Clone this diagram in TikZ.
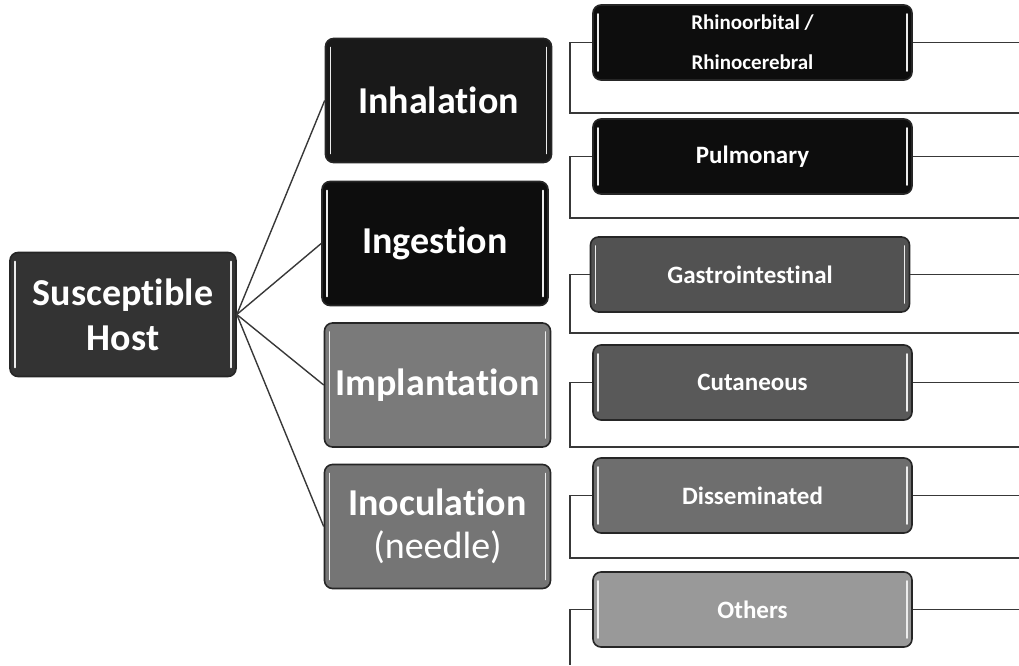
\documentclass[tikz,border=0pt]{standalone}
\usepackage{fontspec}
\setmainfont{Carlito}[Ligatures=NoCommon]
\begin{document}
\begin{tikzpicture}[x=1pt,y=-1pt,
  box/.style={draw=black!85, line width=1.6pt, rounded corners=8pt, text=white,
    font=\bfseries, align=center, inner sep=0pt,
    path picture={
      \draw[white!85!gray, line width=1.6pt, line cap=round]
        ([xshift=5pt,yshift=-9pt]path picture bounding box.north west) --
        ([xshift=5pt,yshift=9pt]path picture bounding box.south west);
      \draw[white!85!gray, line width=1.6pt, line cap=round]
        ([xshift=-5pt,yshift=-9pt]path picture bounding box.north east) --
        ([xshift=-5pt,yshift=9pt]path picture bounding box.south east);
    }},
  bigbox/.style={box, minimum width=226pt, minimum height=124pt,
    font=\bfseries\fontsize{38}{45}\selectfont},
  smallbox/.style={box, minimum width=319pt, minimum height=75pt,
    font=\bfseries\fontsize{25}{30}\selectfont},
  link/.style={draw=black!78, line width=1.4pt},
  wire/.style={draw=black!78, line width=1.1pt}
]
\useasboundingbox (0,0) rectangle (1019,665);

% left and middle column
\node[bigbox, fill=black!80] (host) at (123,314.5) {Susceptible\\Host};
\node[bigbox, fill=black!90] (inh) at (438.5,100.5) {Inhalation};
\node[bigbox, fill=black!95] (ing) at (435,243.5) {Ingestion};
\node[bigbox, fill=black!52] (imp) at (437.5,385) {Implantation};
\node[bigbox, fill=black!54] (ino) at (437.5,526.5) {Inoculation\\[-2pt]{\mdseries (needle)}};

\foreach \t in {inh,ing,imp,ino} \draw[link] (host.east) -- (\t.west);

% right column
\node[smallbox, fill=black!95, font=\bfseries\fontsize{21}{40}\selectfont] (rhi) at (752.5,42.5) {Rhinoorbital /\\Rhinocerebral};
\node[smallbox, fill=black!95] (pul) at (752.5,156.5) {Pulmonary};
\node[smallbox, fill=black!68] (gas) at (750,274.5) {Gastrointestinal};
\node[smallbox, fill=black!65] (cut) at (752.5,382.5) {Cutaneous};
\node[smallbox, fill=black!57] (dis) at (752.5,495.5) {Disseminated};
\node[smallbox, fill=black!40] (oth) at (752.5,609.5) {Others};

\coordinate (L) at (570,0);
\coordinate (R) at (1019,0);
\coordinate (rhiB) at (1019,113);
\coordinate (pulB) at (1019,218);
\coordinate (gasB) at (1019,333);
\coordinate (cutB) at (1019,447);
\coordinate (disB) at (1019,558);
\coordinate (othB) at (570,665);

\foreach \t in {rhi,pul,gas,cut,dis} {
  \draw[wire] (\t.west) -- (\t.west -| L) |- (\t B);
}
\draw[wire] (oth.west) -- (oth.west -| L) -- (othB);
\foreach \t in {rhi,pul,gas,cut,dis,oth} \draw[wire] (\t.east) -- (\t.east -| R);
\end{tikzpicture}
\end{document}
